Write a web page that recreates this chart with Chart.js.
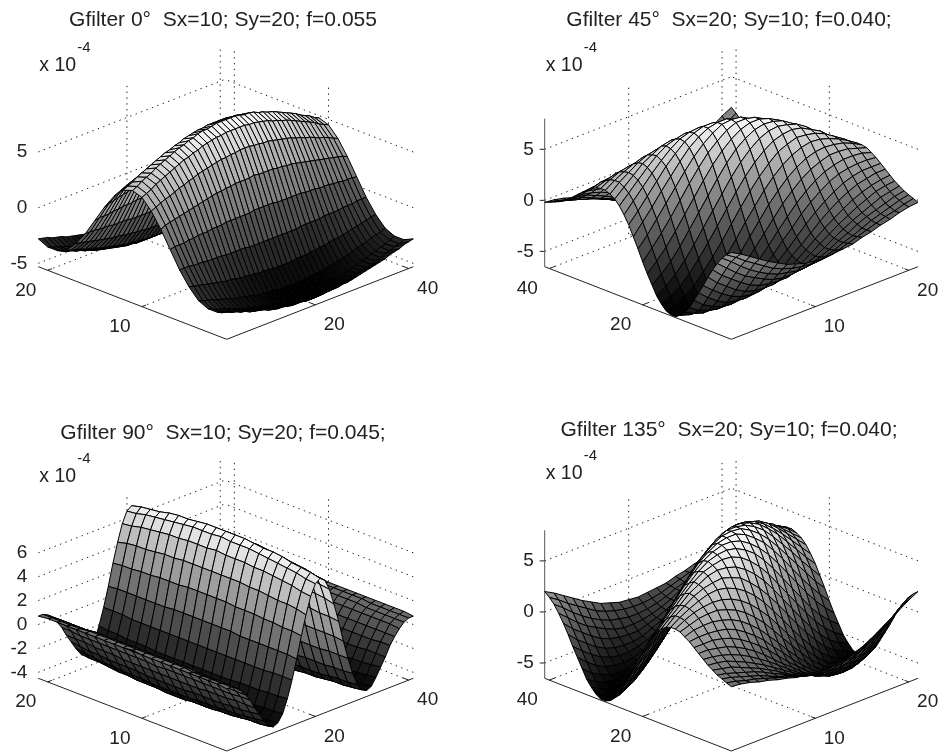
<!DOCTYPE html>
<html>
<head>
<meta charset="utf-8">
<title>Gabor filters</title>
<script src="https://cdn.jsdelivr.net/npm/chart.js@4/dist/chart.umd.min.js"></script>
<style>
  html, body { margin: 0; padding: 0; background: #fff; overflow: hidden; width: 943px; height: 753px; }
  canvas { position: absolute; filter: blur(0.4px); }
</style>
</head>
<body>
<canvas id="c0" width="446" height="376" style="left:0;top:0"></canvas>
<canvas id="c45" width="448" height="376" style="left:505px;top:0"></canvas>
<canvas id="c90" width="446" height="340" style="left:0;top:413px"></canvas>
<canvas id="c135" width="448" height="343" style="left:505px;top:410px"></canvas>
<script>
// surface heights in units of 1e-5, one inner array per grid row
const surface0 = [
[-28,-29,-30,-32,-33,-34,-36,-37,-38,-39,-40,-41,-42,-43,-44,-44,-45,-45,-45,-46,-46,-46,-45,-45,-45,-44,-44,-43,-42,-41,-40,-39,-38,-37,-36,-34,-33,-32,-30,-29,-28],
[-32,-34,-35,-37,-38,-40,-41,-43,-44,-45,-46,-48,-49,-50,-50,-51,-52,-52,-52,-53,-53,-53,-52,-52,-52,-51,-50,-50,-49,-48,-46,-45,-44,-43,-41,-40,-38,-37,-35,-34,-32],
[-32,-34,-36,-37,-39,-40,-42,-43,-45,-46,-47,-48,-49,-50,-51,-52,-52,-53,-53,-53,-53,-53,-53,-53,-52,-52,-51,-50,-49,-48,-47,-46,-45,-43,-42,-40,-39,-37,-36,-34,-32],
[-28,-30,-31,-32,-34,-35,-36,-38,-39,-40,-41,-42,-43,-44,-44,-45,-45,-46,-46,-46,-46,-46,-46,-46,-45,-45,-44,-44,-43,-42,-41,-40,-39,-38,-36,-35,-34,-32,-31,-30,-28],
[-19,-20,-21,-22,-23,-24,-25,-26,-27,-27,-28,-29,-29,-30,-30,-31,-31,-31,-32,-32,-32,-32,-32,-31,-31,-31,-30,-30,-29,-29,-28,-27,-27,-26,-25,-24,-23,-22,-21,-20,-19],
[-7,-7,-7,-8,-8,-8,-9,-9,-9,-9,-10,-10,-10,-10,-10,-11,-11,-11,-11,-11,-11,-11,-11,-11,-11,-11,-10,-10,-10,-10,-10,-9,-9,-9,-9,-8,-8,-8,-7,-7,-7],
[8,9,9,9,10,10,11,11,11,12,12,12,13,13,13,13,13,13,14,14,14,14,14,13,13,13,13,13,13,12,12,12,11,11,11,10,10,9,9,9,8],
[23,25,26,27,28,29,30,31,32,33,34,35,36,36,37,37,38,38,38,38,39,38,38,38,38,37,37,36,36,35,34,33,32,31,30,29,28,27,26,25,23],
[36,38,40,42,43,45,47,48,50,51,53,54,55,56,57,58,58,59,59,60,60,60,59,59,58,58,57,56,55,54,53,51,50,48,47,45,43,42,40,38,36],
[45,47,49,52,54,56,58,60,62,64,65,67,68,70,71,72,73,73,74,74,74,74,74,73,73,72,71,70,68,67,65,64,62,60,58,56,54,52,49,47,45],
[48,50,53,55,57,60,62,64,66,68,70,71,73,74,76,77,77,78,79,79,79,79,79,78,77,77,76,74,73,71,70,68,66,64,62,60,57,55,53,50,48],
[45,47,49,52,54,56,58,60,62,64,65,67,68,70,71,72,73,73,74,74,74,74,74,73,73,72,71,70,68,67,65,64,62,60,58,56,54,52,49,47,45],
[36,38,40,42,43,45,47,48,50,51,53,54,55,56,57,58,58,59,59,60,60,60,59,59,58,58,57,56,55,54,53,51,50,48,47,45,43,42,40,38,36],
[23,25,26,27,28,29,30,31,32,33,34,35,36,36,37,37,38,38,38,38,39,38,38,38,38,37,37,36,36,35,34,33,32,31,30,29,28,27,26,25,23],
[8,9,9,9,10,10,11,11,11,12,12,12,13,13,13,13,13,13,14,14,14,14,14,13,13,13,13,13,13,12,12,12,11,11,11,10,10,9,9,9,8],
[-7,-7,-7,-8,-8,-8,-9,-9,-9,-9,-10,-10,-10,-10,-10,-11,-11,-11,-11,-11,-11,-11,-11,-11,-11,-11,-10,-10,-10,-10,-10,-9,-9,-9,-9,-8,-8,-8,-7,-7,-7],
[-19,-20,-21,-22,-23,-24,-25,-26,-27,-27,-28,-29,-29,-30,-30,-31,-31,-31,-32,-32,-32,-32,-32,-31,-31,-31,-30,-30,-29,-29,-28,-27,-27,-26,-25,-24,-23,-22,-21,-20,-19],
[-28,-30,-31,-32,-34,-35,-36,-38,-39,-40,-41,-42,-43,-44,-44,-45,-45,-46,-46,-46,-46,-46,-46,-46,-45,-45,-44,-44,-43,-42,-41,-40,-39,-38,-36,-35,-34,-32,-31,-30,-28],
[-32,-34,-36,-37,-39,-40,-42,-43,-45,-46,-47,-48,-49,-50,-51,-52,-52,-53,-53,-53,-53,-53,-53,-53,-52,-52,-51,-50,-49,-48,-47,-46,-45,-43,-42,-40,-39,-37,-36,-34,-32],
[-32,-34,-35,-37,-38,-40,-41,-43,-44,-45,-46,-48,-49,-50,-50,-51,-52,-52,-52,-53,-53,-53,-52,-52,-52,-51,-50,-50,-49,-48,-46,-45,-44,-43,-41,-40,-38,-37,-35,-34,-32],
[-28,-29,-30,-32,-33,-34,-36,-37,-38,-39,-40,-41,-42,-43,-44,-44,-45,-45,-45,-46,-46,-46,-45,-45,-45,-44,-44,-43,-42,-41,-40,-39,-38,-37,-36,-34,-33,-32,-30,-29,-28]
];

const surface45 = [
[20,16,11,4,-4,-13,-23,-32,-41,-50,-56,-61,-64,-64,-62,-57,-51,-42,-33,-23,-12,-2,8,16,23,28,31,33,33,32,29,26,22,18,14,10,7,4,2,0,-2],
[15,10,4,-4,-13,-22,-31,-40,-49,-56,-61,-64,-65,-64,-60,-53,-45,-35,-24,-13,-2,9,18,26,32,36,39,39,38,35,32,27,22,18,13,9,5,2,0,-2,-3],
[9,3,-4,-12,-20,-29,-38,-47,-54,-60,-64,-65,-64,-61,-55,-47,-37,-26,-14,-2,10,20,29,36,41,44,45,44,42,38,33,27,22,16,11,7,3,-1,-3,-5,-5],
[3,-3,-11,-19,-27,-36,-44,-52,-58,-62,-64,-64,-61,-56,-48,-38,-27,-15,-2,10,22,32,40,46,50,52,51,48,44,39,33,26,20,14,8,3,-1,-4,-6,-7,-8],
[-3,-9,-17,-24,-33,-41,-48,-54,-59,-62,-62,-60,-55,-48,-38,-27,-15,-2,11,23,34,43,51,55,58,57,55,51,45,39,31,24,17,10,4,-1,-5,-7,-9,-10,-10],
[-8,-15,-22,-29,-37,-44,-50,-55,-58,-59,-57,-53,-47,-38,-27,-15,-2,11,24,36,46,54,60,63,64,62,57,52,44,36,28,20,12,5,-1,-6,-9,-11,-13,-13,-13],
[-13,-19,-26,-33,-39,-45,-50,-54,-55,-54,-51,-45,-37,-27,-15,-2,11,24,37,48,57,64,68,69,67,64,58,50,41,32,23,14,6,-1,-7,-11,-14,-16,-17,-16,-15],
[-16,-22,-28,-35,-40,-45,-48,-50,-50,-47,-42,-35,-26,-15,-2,11,24,37,49,59,66,71,73,72,69,63,55,46,36,26,16,7,-1,-8,-13,-17,-19,-20,-20,-19,-18],
[-19,-24,-30,-35,-40,-43,-45,-45,-43,-39,-33,-24,-14,-2,11,24,37,49,59,67,73,76,76,73,68,60,51,40,29,18,8,-1,-9,-16,-20,-23,-25,-25,-24,-22,-19],
[-20,-25,-30,-34,-37,-39,-40,-39,-35,-30,-23,-13,-2,10,23,36,48,59,67,74,78,78,76,71,64,54,43,32,20,9,-2,-11,-18,-24,-27,-29,-30,-29,-27,-24,-20],
[-21,-25,-29,-32,-34,-35,-34,-31,-27,-20,-12,-2,10,22,34,46,57,66,73,78,79,78,73,66,57,46,34,22,10,-2,-12,-20,-27,-31,-34,-35,-34,-32,-29,-25,-21],
[-20,-24,-27,-29,-30,-29,-27,-24,-18,-11,-2,9,20,32,43,54,64,71,76,78,78,74,67,59,48,36,23,10,-2,-13,-23,-30,-35,-39,-40,-39,-37,-34,-30,-25,-20],
[-19,-22,-24,-25,-25,-23,-20,-16,-9,-1,8,18,29,40,51,60,68,73,76,76,73,67,59,49,37,24,11,-2,-14,-24,-33,-39,-43,-45,-45,-43,-40,-35,-30,-24,-19],
[-18,-19,-20,-20,-19,-17,-13,-8,-1,7,16,26,36,46,55,63,69,72,73,71,66,59,49,37,24,11,-2,-15,-26,-35,-42,-47,-50,-50,-48,-45,-40,-35,-28,-22,-16],
[-15,-16,-17,-16,-14,-11,-7,-1,6,14,23,32,41,50,58,64,67,69,68,64,57,48,37,24,11,-2,-15,-27,-37,-45,-51,-54,-55,-54,-50,-45,-39,-33,-26,-19,-13],
[-13,-13,-13,-11,-9,-6,-1,5,12,20,28,36,44,52,57,62,64,63,60,54,46,36,24,11,-2,-15,-27,-38,-47,-53,-57,-59,-58,-55,-50,-44,-37,-29,-22,-15,-8],
[-10,-10,-9,-7,-5,-1,4,10,17,24,31,39,45,51,55,57,58,55,51,43,34,23,11,-2,-15,-27,-38,-48,-55,-60,-62,-62,-59,-54,-48,-41,-33,-24,-17,-9,-3],
[-8,-7,-6,-4,-1,3,8,14,20,26,33,39,44,48,51,52,50,46,40,32,22,10,-2,-15,-27,-38,-48,-56,-61,-64,-64,-62,-58,-52,-44,-36,-27,-19,-11,-3,3],
[-5,-5,-3,-1,3,7,11,16,22,27,33,38,42,44,45,44,41,36,29,20,10,-2,-14,-26,-37,-47,-55,-61,-64,-65,-64,-60,-54,-47,-38,-29,-20,-12,-4,3,9],
[-3,-2,0,2,5,9,13,18,22,27,32,35,38,39,39,36,32,26,18,9,-2,-13,-24,-35,-45,-53,-60,-64,-65,-64,-61,-56,-49,-40,-31,-22,-13,-4,4,10,15],
[-2,0,2,4,7,10,14,18,22,26,29,32,33,33,31,28,23,16,8,-2,-12,-23,-33,-42,-51,-57,-62,-64,-64,-61,-56,-50,-41,-32,-23,-13,-4,4,11,16,20]
];

const surface90 = [
[7,7,5,1,-4,-10,-18,-25,-32,-38,-40,-38,-32,-21,-7,9,27,43,57,66,69,66,57,43,27,9,-7,-21,-32,-38,-40,-38,-32,-25,-18,-10,-4,1,5,7,7],
[8,7,5,2,-4,-10,-18,-26,-33,-39,-41,-39,-33,-22,-7,10,28,45,58,67,71,67,58,45,28,10,-7,-22,-33,-39,-41,-39,-33,-26,-18,-10,-4,2,5,7,8],
[8,7,5,2,-4,-11,-18,-27,-34,-39,-42,-40,-33,-22,-7,10,28,46,60,69,72,69,60,46,28,10,-7,-22,-33,-40,-42,-39,-34,-27,-18,-11,-4,2,5,7,8],
[8,7,5,2,-4,-11,-19,-27,-35,-40,-42,-40,-34,-23,-8,10,29,46,61,70,73,70,61,46,29,10,-8,-23,-34,-40,-42,-40,-35,-27,-19,-11,-4,2,5,7,8],
[8,7,5,2,-4,-11,-19,-28,-35,-41,-43,-41,-35,-23,-8,10,29,47,62,71,75,71,62,47,29,10,-8,-23,-35,-41,-43,-41,-35,-28,-19,-11,-4,2,5,7,8],
[8,8,6,2,-4,-11,-19,-28,-36,-41,-44,-42,-35,-23,-8,10,30,48,63,72,76,72,63,48,30,10,-8,-23,-35,-42,-44,-41,-36,-28,-19,-11,-4,2,6,8,8],
[8,8,6,2,-4,-11,-20,-28,-36,-42,-44,-42,-35,-24,-8,10,30,48,63,73,76,73,63,48,30,10,-8,-24,-35,-42,-44,-42,-36,-28,-20,-11,-4,2,6,8,8],
[8,8,6,2,-4,-11,-20,-28,-36,-42,-45,-43,-36,-24,-8,11,30,49,64,74,77,74,64,49,30,11,-8,-24,-36,-43,-45,-42,-36,-28,-20,-11,-4,2,6,8,8],
[8,8,6,2,-4,-11,-20,-29,-37,-42,-45,-43,-36,-24,-8,11,31,49,64,74,78,74,64,49,31,11,-8,-24,-36,-43,-45,-42,-37,-29,-20,-11,-4,2,6,8,8],
[8,8,6,2,-4,-11,-20,-29,-37,-43,-45,-43,-36,-24,-8,11,31,49,64,74,78,74,64,49,31,11,-8,-24,-36,-43,-45,-43,-37,-29,-20,-11,-4,2,6,8,8],
[9,8,6,2,-4,-12,-20,-29,-37,-43,-45,-43,-36,-24,-8,11,31,49,65,75,78,75,65,49,31,11,-8,-24,-36,-43,-45,-43,-37,-29,-20,-12,-4,2,6,8,9],
[8,8,6,2,-4,-11,-20,-29,-37,-43,-45,-43,-36,-24,-8,11,31,49,64,74,78,74,64,49,31,11,-8,-24,-36,-43,-45,-43,-37,-29,-20,-11,-4,2,6,8,8],
[8,8,6,2,-4,-11,-20,-29,-37,-42,-45,-43,-36,-24,-8,11,31,49,64,74,78,74,64,49,31,11,-8,-24,-36,-43,-45,-42,-37,-29,-20,-11,-4,2,6,8,8],
[8,8,6,2,-4,-11,-20,-28,-36,-42,-45,-43,-36,-24,-8,11,30,49,64,74,77,74,64,49,30,11,-8,-24,-36,-43,-45,-42,-36,-28,-20,-11,-4,2,6,8,8],
[8,8,6,2,-4,-11,-20,-28,-36,-42,-44,-42,-35,-24,-8,10,30,48,63,73,76,73,63,48,30,10,-8,-24,-35,-42,-44,-42,-36,-28,-20,-11,-4,2,6,8,8],
[8,8,6,2,-4,-11,-19,-28,-36,-41,-44,-42,-35,-23,-8,10,30,48,63,72,76,72,63,48,30,10,-8,-23,-35,-42,-44,-41,-36,-28,-19,-11,-4,2,6,8,8],
[8,7,5,2,-4,-11,-19,-28,-35,-41,-43,-41,-35,-23,-8,10,29,47,62,71,75,71,62,47,29,10,-8,-23,-35,-41,-43,-41,-35,-28,-19,-11,-4,2,5,7,8],
[8,7,5,2,-4,-11,-19,-27,-35,-40,-42,-40,-34,-23,-8,10,29,46,61,70,73,70,61,46,29,10,-8,-23,-34,-40,-42,-40,-35,-27,-19,-11,-4,2,5,7,8],
[8,7,5,2,-4,-11,-18,-27,-34,-39,-42,-40,-33,-22,-7,10,28,46,60,69,72,69,60,46,28,10,-7,-22,-33,-40,-42,-39,-34,-27,-18,-11,-4,2,5,7,8],
[8,7,5,2,-4,-10,-18,-26,-33,-39,-41,-39,-33,-22,-7,10,28,45,58,67,71,67,58,45,28,10,-7,-22,-33,-39,-41,-39,-33,-26,-18,-10,-4,2,5,7,8],
[7,7,5,1,-4,-10,-18,-25,-32,-38,-40,-38,-32,-21,-7,9,27,43,57,66,69,66,57,43,27,9,-7,-21,-32,-38,-40,-38,-32,-25,-18,-10,-4,1,5,7,7]
];

const surface135 = [
[-2,0,2,4,7,10,14,18,22,26,29,32,33,33,31,28,23,16,8,-2,-12,-23,-33,-42,-51,-57,-62,-64,-64,-61,-56,-50,-41,-32,-23,-13,-4,4,11,16,20],
[-3,-2,0,2,5,9,13,18,22,27,32,35,38,39,39,36,32,26,18,9,-2,-13,-24,-35,-45,-53,-60,-64,-65,-64,-61,-56,-49,-40,-31,-22,-13,-4,4,10,15],
[-5,-5,-3,-1,3,7,11,16,22,27,33,38,42,44,45,44,41,36,29,20,10,-2,-14,-26,-37,-47,-55,-61,-64,-65,-64,-60,-54,-47,-38,-29,-20,-12,-4,3,9],
[-8,-7,-6,-4,-1,3,8,14,20,26,33,39,44,48,51,52,50,46,40,32,22,10,-2,-15,-27,-38,-48,-56,-61,-64,-64,-62,-58,-52,-44,-36,-27,-19,-11,-3,3],
[-10,-10,-9,-7,-5,-1,4,10,17,24,31,39,45,51,55,57,58,55,51,43,34,23,11,-2,-15,-27,-38,-48,-55,-60,-62,-62,-59,-54,-48,-41,-33,-24,-17,-9,-3],
[-13,-13,-13,-11,-9,-6,-1,5,12,20,28,36,44,52,57,62,64,63,60,54,46,36,24,11,-2,-15,-27,-38,-47,-53,-57,-59,-58,-55,-50,-44,-37,-29,-22,-15,-8],
[-15,-16,-17,-16,-14,-11,-7,-1,6,14,23,32,41,50,58,64,67,69,68,64,57,48,37,24,11,-2,-15,-27,-37,-45,-51,-54,-55,-54,-50,-45,-39,-33,-26,-19,-13],
[-18,-19,-20,-20,-19,-17,-13,-8,-1,7,16,26,36,46,55,63,69,72,73,71,66,59,49,37,24,11,-2,-15,-26,-35,-42,-47,-50,-50,-48,-45,-40,-35,-28,-22,-16],
[-19,-22,-24,-25,-25,-23,-20,-16,-9,-1,8,18,29,40,51,60,68,73,76,76,73,67,59,49,37,24,11,-2,-14,-24,-33,-39,-43,-45,-45,-43,-40,-35,-30,-24,-19],
[-20,-24,-27,-29,-30,-29,-27,-24,-18,-11,-2,9,20,32,43,54,64,71,76,78,78,74,67,59,48,36,23,10,-2,-13,-23,-30,-35,-39,-40,-39,-37,-34,-30,-25,-20],
[-21,-25,-29,-32,-34,-35,-34,-31,-27,-20,-12,-2,10,22,34,46,57,66,73,78,79,78,73,66,57,46,34,22,10,-2,-12,-20,-27,-31,-34,-35,-34,-32,-29,-25,-21],
[-20,-25,-30,-34,-37,-39,-40,-39,-35,-30,-23,-13,-2,10,23,36,48,59,67,74,78,78,76,71,64,54,43,32,20,9,-2,-11,-18,-24,-27,-29,-30,-29,-27,-24,-20],
[-19,-24,-30,-35,-40,-43,-45,-45,-43,-39,-33,-24,-14,-2,11,24,37,49,59,67,73,76,76,73,68,60,51,40,29,18,8,-1,-9,-16,-20,-23,-25,-25,-24,-22,-19],
[-16,-22,-28,-35,-40,-45,-48,-50,-50,-47,-42,-35,-26,-15,-2,11,24,37,49,59,66,71,73,72,69,63,55,46,36,26,16,7,-1,-8,-13,-17,-19,-20,-20,-19,-18],
[-13,-19,-26,-33,-39,-45,-50,-54,-55,-54,-51,-45,-37,-27,-15,-2,11,24,37,48,57,64,68,69,67,64,58,50,41,32,23,14,6,-1,-7,-11,-14,-16,-17,-16,-15],
[-8,-15,-22,-29,-37,-44,-50,-55,-58,-59,-57,-53,-47,-38,-27,-15,-2,11,24,36,46,54,60,63,64,62,57,52,44,36,28,20,12,5,-1,-6,-9,-11,-13,-13,-13],
[-3,-9,-17,-24,-33,-41,-48,-54,-59,-62,-62,-60,-55,-48,-38,-27,-15,-2,11,23,34,43,51,55,58,57,55,51,45,39,31,24,17,10,4,-1,-5,-7,-9,-10,-10],
[3,-3,-11,-19,-27,-36,-44,-52,-58,-62,-64,-64,-61,-56,-48,-38,-27,-15,-2,10,22,32,40,46,50,52,51,48,44,39,33,26,20,14,8,3,-1,-4,-6,-7,-8],
[9,3,-4,-12,-20,-29,-38,-47,-54,-60,-64,-65,-64,-61,-55,-47,-37,-26,-14,-2,10,20,29,36,41,44,45,44,42,38,33,27,22,16,11,7,3,-1,-3,-5,-5],
[15,10,4,-4,-13,-22,-31,-40,-49,-56,-61,-64,-65,-64,-60,-53,-45,-35,-24,-13,-2,9,18,26,32,36,39,39,38,35,32,27,22,18,13,9,5,2,0,-2,-3],
[20,16,11,4,-4,-13,-23,-32,-41,-50,-56,-61,-64,-64,-62,-57,-51,-42,-33,-23,-12,-2,8,16,23,28,31,33,33,32,29,26,22,18,14,10,7,4,2,0,-2]
];

const titles = [
  'Gfilter 0°  Sx=10; Sy=20; f=0.055',
  'Gfilter 45°  Sx=20; Sy=10; f=0.040;',
  'Gfilter 90°  Sx=10; Sy=20; f=0.045;',
  'Gfilter 135°  Sx=20; Sy=10; f=0.040;'
];
const zTicks5 = [-5, 0, 5];
const zTicks2 = [-4, -2, 0, 2, 4, 6];
const ticksLong = [20, 40];
const ticksShort = [10, 20];

const TITLE_BLOCK = 37;

// col runs along colEnd, row along rowEnd, all screen corners in page pixels
const panels = [
  { id: 'c0', left: 0, top: 0, w: 446, h: 376, title: titles[0], z: surface0, zTicks: zTicks5, colTicks: ticksLong, rowTicks: ticksShort,
    front: [226.7, 339.3], colEnd: [413.3, 266.7], rowEnd: [38.3, 266.7], colRight: true, zAxis: false },
  { id: 'c45', left: 505, top: 0, w: 448, h: 376, title: titles[1], z: surface45, zTicks: zTicks5, colTicks: ticksLong, rowTicks: ticksShort,
    front: [731.3, 339.3], colEnd: [544.7, 266.7], rowEnd: [918, 266.7], colRight: false, zAxis: true },
  { id: 'c90', left: 0, top: 413, w: 446, h: 340, title: titles[2], z: surface90, zTicks: zTicks2, colTicks: ticksLong, rowTicks: ticksShort,
    front: [226.7, 751], colEnd: [413.3, 678.3], rowEnd: [38.3, 678.3], colRight: true, zAxis: false },
  { id: 'c135', left: 505, top: 410, w: 448, h: 343, title: titles[3], z: surface135, zTicks: zTicks5, colTicks: ticksLong, rowTicks: ticksShort,
    front: [731.3, 751], colEnd: [544.7, 678.3], rowEnd: [918, 678.3], colRight: false, zAxis: true }
];

const WALL_HEIGHT = 147;
const TEXT = '#222';
const FONT = '"Liberation Sans", Arial, sans-serif';

function buildPanel(p) {
  const rows = p.z.length, cols = p.z[0].length;
  const flat = p.z.flat();
  const zMin = Math.min(...flat) / 10, zMax = Math.max(...flat) / 10;

  function project(c, r, z) {
    const a = (c - 1) / (cols - 1), b = (r - 1) / (rows - 1);
    const h = (z - zMin) / (zMax - zMin) * WALL_HEIGHT;
    return {
      x: p.front[0] + a * (p.colEnd[0] - p.front[0]) + b * (p.rowEnd[0] - p.front[0]),
      y: p.front[1] + a * (p.colEnd[1] - p.front[1]) + b * (p.rowEnd[1] - p.front[1]) - h
    };
  }
  p.project = project; p.zMin = zMin; p.zMax = zMax; p.rows = rows; p.cols = cols;

  const datasets = [];
  // first dataset ends up on top in Chart.js, so nearest quads go first
  for (let r = 0; r < rows - 1; r++) {
    for (let c = 0; c < cols - 1; c++) {
      const v = p.z[r][c] / 10;
      const g = Math.round((v - zMin) / (zMax - zMin) * 255);
      const quad = [
        project(c + 1, r + 1, v),
        project(c + 2, r + 1, p.z[r][c + 1] / 10),
        project(c + 2, r + 2, p.z[r + 1][c + 1] / 10),
        project(c + 1, r + 2, p.z[r + 1][c] / 10),
        project(c + 1, r + 1, v)
      ];
      datasets.push({
        data: quad, showLine: true, fill: 'shape', pointRadius: 0, tension: 0,
        backgroundColor: `rgb(${g},${g},${g})`, borderColor: '#000', borderWidth: 1
      });
    }
  }

  function line(a, b, dotted, color) {
    datasets.push({
      data: [a, b], showLine: true, fill: false, pointRadius: 0,
      borderColor: color || '#222', borderWidth: 1, borderDash: dotted ? [1.4, 4.4] : []
    });
  }

  // front axes and tick marks
  line(project(1, 1, zMin), project(cols, 1, zMin));
  line(project(1, 1, zMin), project(1, rows, zMin));
  p.colTicks.forEach(t => line(project(t, 1, zMin), project(t, 1.6, zMin)));
  p.rowTicks.forEach(t => line(project(1, t, zMin), project(1.9, t, zMin)));

  if (p.zAxis) {
    const corner = p.colRight ? [1, rows] : [cols, 1];
    const bottom = project(corner[0], corner[1], zMin);
    const top = project(corner[0], corner[1], 8);
    line(bottom, top, false, '#555');
    p.zTicks.forEach(t => {
      const q = project(corner[0], corner[1], t);
      line({ x: q.x - 5, y: q.y }, q);
    });
  }

  // dotted grid on the floor and the two back walls
  p.colTicks.forEach(t => {
    line(project(t, 1, zMin), project(t, rows, zMin), true);
    line(project(t, rows, zMin), project(t, rows, zMax), true);
  });
  p.rowTicks.forEach(t => {
    line(project(1, t, zMin), project(cols, t, zMin), true);
    line(project(cols, t, zMin), project(cols, t, zMax), true);
  });
  p.zTicks.forEach(t => {
    line(project(1, rows, t), project(cols, rows, t), true);
    line(project(cols, 1, t), project(cols, rows, t), true);
  });
  return datasets;
}

const axisText = {
  id: 'axisText',
  afterDraw(chart, args, opts) {
    const p = opts.panel, ctx = chart.ctx;
    const sx = chart.scales.x, sy = chart.scales.y;
    function put(text, x, y, align, size) {
      ctx.font = `${size}px ${FONT}`;
      ctx.textAlign = align;
      ctx.textBaseline = 'middle';
      ctx.fillStyle = TEXT;
      ctx.fillText(text, sx.getPixelForValue(x), sy.getPixelForValue(y));
    }
    ctx.save();
    const colDx = p.colRight ? 19 : -22, rowDx = p.colRight ? -22 : 19;
    p.colTicks.forEach(t => {
      const q = p.project(t, 1, p.zMin);
      put(String(t), q.x + colDx, q.y + 20, 'center', 19);
    });
    p.rowTicks.forEach(t => {
      const q = p.project(1, t, p.zMin);
      put(String(t), q.x + rowDx, q.y + 20, 'center', 19);
    });
    const corner = p.colRight ? [1, p.rows] : [p.cols, 1];
    p.zTicks.forEach(t => {
      const q = p.project(corner[0], corner[1], t);
      put(String(t), q.x - 11, q.y, 'right', 19);
    });
    const lx = corner[0] === 1 ? p.front[0] + (p.rowEnd[0] - p.front[0]) : p.front[0] + (p.colEnd[0] - p.front[0]);
    const ly = p.top + (p.top ? 64 : 66);
    put('x 10', lx + 1, ly, 'left', 19.5);
    put('-4', lx + 39, ly - 18, 'left', 15);
    ctx.restore();
  }
};

panels.forEach(p => {
  new Chart(document.getElementById(p.id), {
    type: 'scatter',
    data: { datasets: buildPanel(p) },
    options: {
      responsive: false,
      animation: false,
      events: [],
      layout: { padding: 0 },
      elements: { line: { tension: 0 } },
      scales: {
        x: { type: 'linear', display: false, min: p.left, max: p.left + p.w },
        y: { type: 'linear', display: false, reverse: true, min: p.top + TITLE_BLOCK, max: p.top + p.h }
      },
      plugins: {
        legend: { display: false },
        tooltip: { enabled: false },
        title: {
          display: true, text: p.title, color: TEXT,
          font: { family: FONT, size: 21, weight: 'normal', lineHeight: 1 },
          padding: { top: 10, bottom: 6 }
        },
        axisText: { panel: p }
      }
    },
    plugins: [axisText]
  });
});
</script>
</body>
</html>
